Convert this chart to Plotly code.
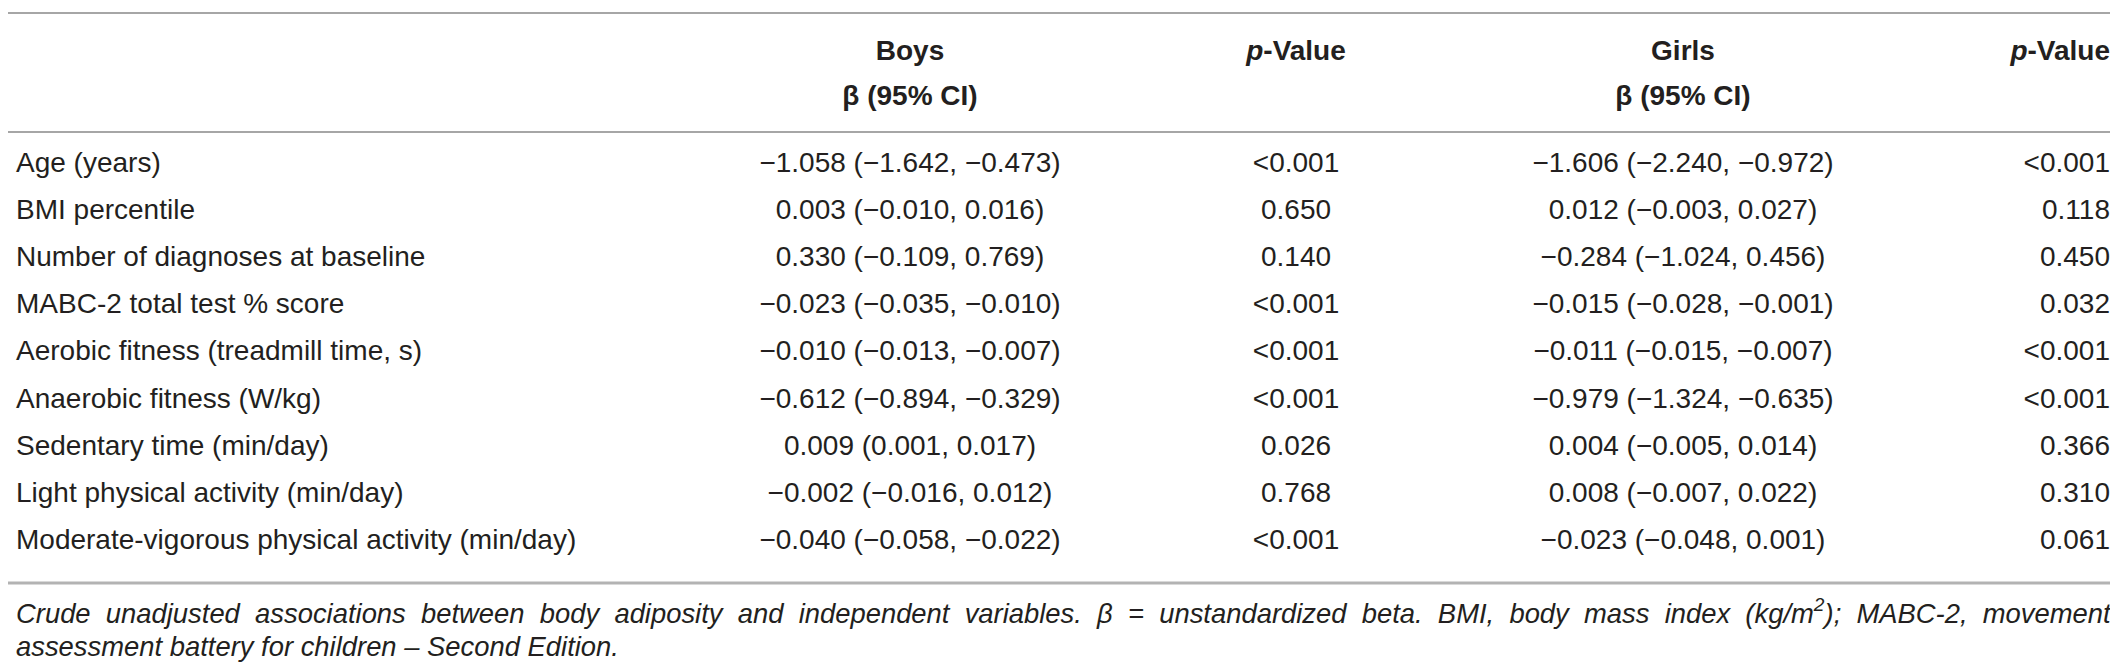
import plotly.graph_objects as go

# table content
variables = [
    'Age (years)',
    'BMI percentile',
    'Number of diagnoses at baseline',
    'MABC-2 total test % score',
    'Aerobic fitness (treadmill time, s)',
    'Anaerobic fitness (W/kg)',
    'Sedentary time (min/day)',
    'Light physical activity (min/day)',
    'Moderate-vigorous physical activity (min/day)',
]
boys_beta = [
    '−1.058 (−1.642, −0.473)',
    '0.003 (−0.010, 0.016)',
    '0.330 (−0.109, 0.769)',
    '−0.023 (−0.035, −0.010)',
    '−0.010 (−0.013, −0.007)',
    '−0.612 (−0.894, −0.329)',
    '0.009 (0.001, 0.017)',
    '−0.002 (−0.016, 0.012)',
    '−0.040 (−0.058, −0.022)',
]
boys_p = ['<0.001', '0.650', '0.140', '<0.001', '<0.001', '<0.001', '0.026', '0.768', '<0.001']
girls_beta = [
    '−1.606 (−2.240, −0.972)',
    '0.012 (−0.003, 0.027)',
    '−0.284 (−1.024, 0.456)',
    '−0.015 (−0.028, −0.001)',
    '−0.011 (−0.015, −0.007)',
    '−0.979 (−1.324, −0.635)',
    '0.004 (−0.005, 0.014)',
    '0.008 (−0.007, 0.022)',
    '−0.023 (−0.048, 0.001)',
]
girls_p = ['<0.001', '0.118', '0.450', '0.032', '<0.001', '<0.001', '0.366', '0.310', '0.061']

header_groups = ['Boys', 'Girls']
header_sub = 'β (95% CI)'
header_p = '<i>p</i>-Value'

footnote_1 = ('Crude unadjusted associations between body adiposity and independent variables. '
              'β = unstandardized beta. BMI, body mass index (kg/m<sup>2</sup>); MABC-2, movement')
footnote_2 = 'assessment battery for children – Second Edition.'

W, H = 2118, 665
FONT = 'Liberation Sans, Arial, Helvetica, sans-serif'
TEXT_COLOR = '#231f20'
FS = 28
FS_NOTE = 27.4

# layout positions (pixels)
x_label = 8
x_boys = 902
x_p1 = 1288
x_girls = 1675
x_p2 = 2102
y_head1 = 45
y_head2 = 90
y_first = 157
row_step = 47.1
y_foot = [608, 641]

row_y = [y_first + i * row_step for i in range(len(variables))]


def text_trace(xs, ys, texts, pos, size=FS):
    return go.Scatter(x=xs, y=ys, text=texts, mode='text', textposition=pos,
                      textfont=dict(family=FONT, size=size, color=TEXT_COLOR),
                      hoverinfo='skip', showlegend=False, cliponaxis=False)


data = []
data.append(text_trace([x_label] * len(variables), row_y, variables, 'middle right'))
data.append(text_trace([x_boys] * len(boys_beta), row_y, boys_beta, 'middle center'))
data.append(text_trace([x_p1] * len(boys_p), row_y, boys_p, 'middle center'))
data.append(text_trace([x_girls] * len(girls_beta), row_y, girls_beta, 'middle center'))
data.append(text_trace([x_p2] * len(girls_p), row_y, girls_p, 'middle left'))

# header rows
bold = lambda s: '<b>' + s + '</b>'
data.append(text_trace([x_boys, x_girls], [y_head1] * 2, [bold(g) for g in header_groups], 'middle center'))
data.append(text_trace([x_boys, x_girls], [y_head2] * 2, [bold(header_sub)] * 2, 'middle center'))
data.append(text_trace([x_p1], [y_head1], [bold(header_p)], 'middle center'))
data.append(text_trace([x_p2], [y_head1], [bold(header_p)], 'middle left'))

# footnote; first line is justified in the original, so widen its word gaps
line1 = '<i>' + footnote_1.replace(' ', ' \u00a0') + '</i>'
line2 = '<i>' + footnote_2 + '</i>'
data.append(text_trace([x_label], [y_foot[0]], [line1], 'middle right', size=FS_NOTE))
data.append(text_trace([x_label], [y_foot[1]], [line2], 'middle right', size=FS_NOTE))

fig = go.Figure(data=data)

# horizontal rules: top, below header, bottom
rules = [(5, '#a6a6a6', 2), (124, '#a6a6a6', 2), (575, '#b3b3b3', 3)]
for yr, col, wd in rules:
    fig.add_shape(type='line', xref='x', yref='y', x0=0, x1=W, y0=yr, y1=yr,
                  line=dict(color=col, width=wd))

fig.update_layout(
    width=W, height=H,
    margin=dict(l=0, r=0, t=0, b=0),
    paper_bgcolor='white', plot_bgcolor='white',
    xaxis=dict(range=[0, W], visible=False, fixedrange=True),
    yaxis=dict(range=[H, 0], visible=False, fixedrange=True),
)

fig.write_html('out.html')
